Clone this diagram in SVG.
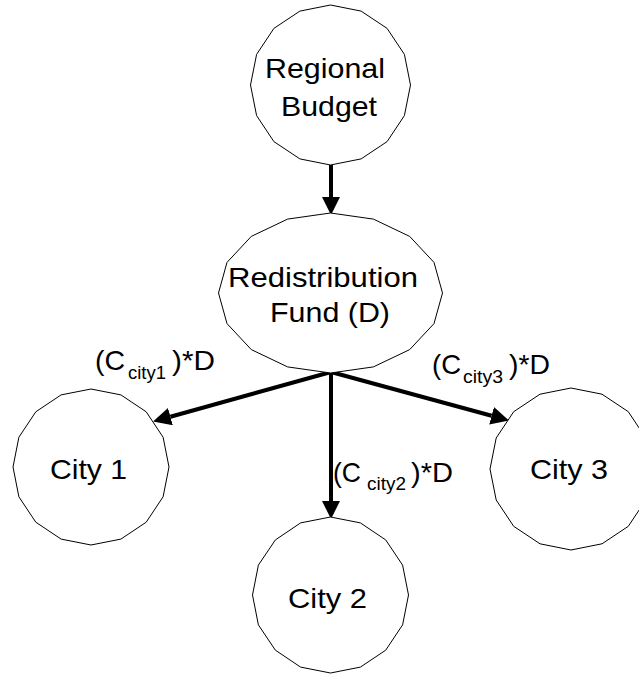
<svg xmlns="http://www.w3.org/2000/svg" width="639" height="675" viewBox="0 0 639 675">
<style>
.node{fill:#fff;stroke:#000;stroke-width:1}
.t{font-family:"Liberation Sans",Arial,sans-serif;font-size:28px;fill:#000;text-anchor:middle}
.lab{font-family:"Liberation Sans",Arial,sans-serif;font-size:28px;fill:#000}
.sub{font-size:19px}
.edge{stroke:#000;stroke-width:4;fill:none}
</style>
<defs>
<marker id="ah" markerUnits="userSpaceOnUse" markerWidth="18" markerHeight="18" refX="0" refY="8" orient="auto" viewBox="0 0 16 16">
<path d="M0,0 L16,8 L0,16 Z" fill="#000"/>
</marker>
</defs>
<rect width="639" height="675" fill="#fff"/>
<g id="connectors">
<line class="edge" x1="331" y1="165" x2="331" y2="197" marker-end="url(#ah)"/>
<line class="edge" x1="331" y1="372" x2="170.4" y2="416.7" marker-end="url(#ah)"/>
<line class="edge" x1="331" y1="372" x2="331" y2="501" marker-end="url(#ah)"/>
<line class="edge" x1="331" y1="372" x2="491.6" y2="415.8" marker-end="url(#ah)"/>
</g>
<g id="regional-budget">
<polygon class="node" points="330.5,5 361.1,11.1 387.1,28.4 404.4,54.4 410.5,85 404.4,115.6 387.1,141.6 361.1,158.9 330.5,165 299.9,158.9 273.9,141.6 256.6,115.6 250.5,85 256.6,54.4 273.9,28.4 299.9,11.1"/>
<text class="t" x="325" y="78" textLength="120" lengthAdjust="spacingAndGlyphs">Regional</text>
<text class="t" x="329" y="116" textLength="96" lengthAdjust="spacingAndGlyphs">Budget</text>
</g>
<g id="redistribution-fund">
<polygon class="node" points="330.5,213 373.4,219.1 409.7,236.4 434,262.4 442.5,293 434,323.6 409.7,349.6 373.4,366.9 330.5,373 287.6,366.9 251.3,349.6 227,323.6 218.5,293 227,262.4 251.3,236.4 287.6,219.1"/>
<text class="t" x="323" y="287" textLength="190" lengthAdjust="spacingAndGlyphs">Redistribution</text>
<text class="t" x="330" y="322" textLength="120" lengthAdjust="spacingAndGlyphs">Fund (D)</text>
</g>
<g id="city1">
<polygon class="node" points="91,389 120.9,394.9 146.2,411.8 163.1,437.2 169,467 163.1,496.8 146.2,522.2 120.9,539.1 91,545 61.1,539.1 35.8,522.2 18.9,496.8 13,467 18.9,437.2 35.8,411.8 61.1,394.9"/>
<text class="t" x="88.5" y="479" textLength="77" lengthAdjust="spacingAndGlyphs">City 1</text>
</g>
<g id="city2">
<polygon class="node" points="330.5,517 360.4,522.9 385.7,539.9 402.6,565.1 408.5,595 402.6,624.9 385.7,650.2 360.4,667.1 330.5,673 300.6,667.1 275.4,650.2 258.4,624.9 252.5,595 258.4,565.1 275.4,539.9 300.6,522.9"/>
<text class="t" x="327.5" y="608" textLength="79" lengthAdjust="spacingAndGlyphs">City 2</text>
</g>
<g id="city3">
<polygon class="node" points="571,388 602,394.2 628.3,411.7 645.8,438 652,469 645.8,500 628.3,526.3 602,543.8 571,550 540,543.8 513.7,526.3 496.2,500 490,469 496.2,438 513.7,411.7 540,394.2"/>
<text class="t" x="569" y="479" textLength="78" lengthAdjust="spacingAndGlyphs">City 3</text>
</g>
<g id="labels">
<text class="lab" y="370"><tspan x="95" textLength="30" lengthAdjust="spacingAndGlyphs">(C</tspan><tspan class="sub" x="128" y="379" textLength="38" lengthAdjust="spacingAndGlyphs">city1</tspan><tspan x="172" y="370" textLength="43" lengthAdjust="spacingAndGlyphs">)*D</tspan></text>
<text class="lab" y="482"><tspan x="333" textLength="28" lengthAdjust="spacingAndGlyphs">(C</tspan><tspan class="sub" x="367" y="490" textLength="39" lengthAdjust="spacingAndGlyphs">city2</tspan><tspan x="411" y="482" textLength="42" lengthAdjust="spacingAndGlyphs">)*D</tspan></text>
<text class="lab" y="374"><tspan x="432" textLength="29" lengthAdjust="spacingAndGlyphs">(C</tspan><tspan class="sub" x="463" y="383" textLength="40" lengthAdjust="spacingAndGlyphs">city3</tspan><tspan x="509" y="374" textLength="41" lengthAdjust="spacingAndGlyphs">)*D</tspan></text>
</g>
</svg>
